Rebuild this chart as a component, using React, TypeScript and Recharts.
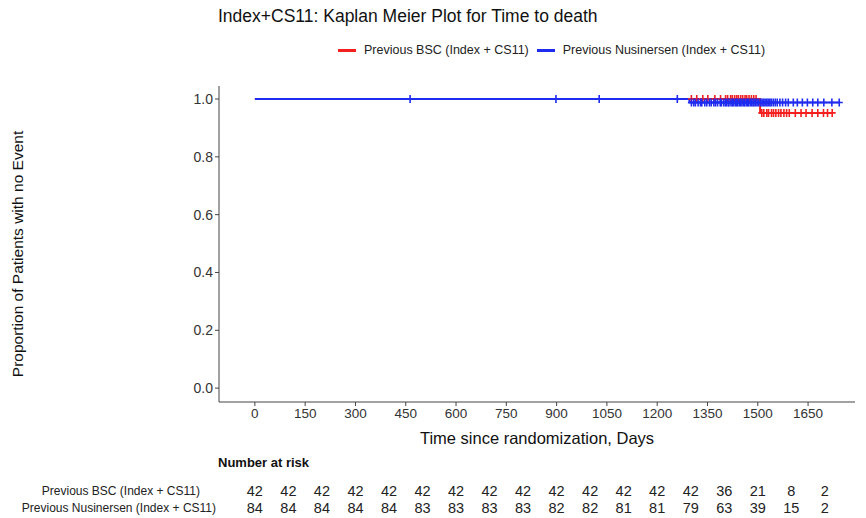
import React from "react"
import {
  ComposedChart,
  ScatterChart,
  Line,
  Scatter,
  XAxis,
  YAxis,
  Label,
} from "recharts"

// step curves (time in days, survival proportion)
const bscCurve = [
  { t: 0, s: 1 },
  { t: 1507, s: 0.952 },
  { t: 1722, s: 0.952 },
]
const nusCurve = [
  { t: 0, s: 1 },
  { t: 1296, s: 0.988 },
  { t: 1743, s: 0.988 },
]

// censoring times
const bscCensorTop = [1302, 1318, 1336, 1351, 1372, 1389, 1404, 1410, 1419, 1424, 1431, 1437, 1442, 1449, 1455, 1462, 1467, 1474, 1481, 1488, 1495]
const bscCensorLow = [1512, 1518, 1527, 1532, 1541, 1547, 1554, 1562, 1569, 1578, 1586, 1594, 1612, 1629, 1644, 1662, 1679, 1696, 1708, 1722]
const nusCensorTop = [463, 898, 1027, 1260]
const nusCensorLow = [
  1302, 1309, 1314, 1322, 1329, 1333, 1342, 1348, 1356, 1361, 1369, 1374, 1380, 1388, 1391, 1398,
  1403, 1407, 1412, 1414, 1420, 1424, 1428, 1433, 1437, 1440, 1445, 1449, 1453, 1458, 1461, 1466,
  1470, 1473, 1478, 1482, 1486, 1489, 1494, 1498,
  1503, 1509, 1513, 1518, 1522, 1527, 1531, 1536, 1540, 1546, 1552, 1558, 1566, 1574, 1583, 1591,
  1606, 1618, 1633, 1648, 1664, 1679, 1697, 1721, 1743,
]

const xTicks = [0, 150, 300, 450, 600, 750, 900, 1050, 1200, 1350, 1500, 1650]
const yTicks = [0, 0.2, 0.4, 0.6, 0.8, 1.0]

// number at risk table
const riskTimes = [0, 100, 200, 300, 400, 500, 600, 700, 800, 900, 1000, 1100, 1200, 1300, 1400, 1500, 1600, 1700]
const bscRisk = [42, 42, 42, 42, 42, 42, 42, 42, 42, 42, 42, 42, 42, 42, 36, 21, 8, 2]
const nusRisk = [84, 84, 84, 84, 84, 83, 83, 83, 83, 82, 82, 81, 81, 79, 63, 39, 15, 2]

const BSC_LABEL = "Previous BSC (Index + CS11)"
const NUS_LABEL = "Previous Nusinersen (Index + CS11)"

const RED = "#f2201f"
const BLUE = "#1f2cf0"
const FONT = '"Liberation Sans", Arial, sans-serif'
const X_DOMAIN = [-107, 1790]

const Cross = (color: string) => (props: any) => {
  const { cx, cy } = props
  return (
    <path
      d={`M${cx - 3.5},${cy}H${cx + 3.5}M${cx},${cy - 4}V${cy + 4}`}
      stroke={color}
      strokeWidth={1.6}
      fill="none"
    />
  )
}

const RiskNumber = (props: any) => {
  const { cx, cy, payload } = props
  return (
    <text x={cx} y={cy} textAnchor="middle" dominantBaseline="central" fontSize={14.5} fill="#222" fontFamily={FONT}>
      {payload.n}
    </text>
  )
}

const RowTick = (props: any) => {
  const { y, payload } = props
  const isBsc = payload.value > 1
  return (
    <text x={isBsc ? 200 : 216} y={y} textAnchor="end" dominantBaseline="central" fontSize={12} fill="#222" fontFamily={FONT}>
      {isBsc ? BSC_LABEL : NUS_LABEL}
    </text>
  )
}

export default function App() {
  const mk = (arr: number[], s: number) => arr.map((t) => ({ t, s }))
  const riskData = [
    ...riskTimes.map((t, i) => ({ t, r: 1.5, n: bscRisk[i] })),
    ...riskTimes.map((t, i) => ({ t, r: 0.5, n: nusRisk[i] })),
  ]
  const xTick = { fontSize: 13.5, fill: "#333", fontFamily: FONT }
  const yTick = { fontSize: 14, fill: "#333", fontFamily: FONT }

  return (
    <div style={{ position: "absolute", left: 0, top: 0, width: 866, height: 518, background: "#fff", fontFamily: FONT }}>
      <div style={{ position: "absolute", left: 218, top: 6, fontSize: 17.5, color: "#111", whiteSpace: "nowrap" }}>
        Index+CS11: Kaplan Meier Plot for Time to death
      </div>

      <div style={{ position: "absolute", left: 338, top: 43, display: "flex", alignItems: "center", fontSize: 12.5, color: "#222", whiteSpace: "nowrap" }}>
        <span style={{ display: "inline-block", width: 18, height: 3, background: RED, marginRight: 8 }} />
        <span>{BSC_LABEL}</span>
        <span style={{ display: "inline-block", width: 18, height: 3, background: BLUE, marginLeft: 8, marginRight: 8 }} />
        <span>{NUS_LABEL}</span>
      </div>

      <div
        style={{
          position: "absolute",
          left: 18,
          top: 254,
          transform: "translate(-50%, -50%) rotate(-90deg)",
          fontSize: 15.5,
          color: "#111",
          whiteSpace: "nowrap",
        }}
      >
        Proportion of Patients with no Event
      </div>

      <div style={{ position: "absolute", left: 0, top: 0 }}>
        <ComposedChart width={866} height={450} margin={{ top: 86, right: 11, bottom: 0, left: 0 }}>
          <XAxis
            type="number"
            dataKey="t"
            domain={X_DOMAIN}
            ticks={xTicks}
            interval={0}
            allowDataOverflow
            height={48}
            tickSize={4}
            stroke="#444"
            tick={xTick}
          >
            <Label value="Time since randomization, Days" position="insideBottom" offset={6} style={{ fontSize: 16.5, fill: "#111", fontFamily: FONT }} />
          </XAxis>
          <YAxis
            type="number"
            domain={[-0.048, 1.045]}
            ticks={yTicks}
            interval={0}
            allowDataOverflow
            width={219}
            tickSize={4}
            stroke="#444"
            tick={yTick}
            tickFormatter={(v: number) => v.toFixed(1)}
          />
          <Line data={bscCurve} dataKey="s" type="stepAfter" stroke={RED} strokeWidth={2} dot={false} isAnimationActive={false} />
          <Scatter data={mk(bscCensorTop, 1)} dataKey="s" shape={Cross(RED)} isAnimationActive={false} />
          <Scatter data={mk(bscCensorLow, 0.952)} dataKey="s" shape={Cross(RED)} isAnimationActive={false} />
          <Line data={nusCurve} dataKey="s" type="stepAfter" stroke={BLUE} strokeWidth={2} dot={false} isAnimationActive={false} />
          <Scatter data={mk(nusCensorTop, 1)} dataKey="s" shape={Cross(BLUE)} isAnimationActive={false} />
          <Scatter data={mk(nusCensorLow, 0.988)} dataKey="s" shape={Cross(BLUE)} isAnimationActive={false} />
        </ComposedChart>
      </div>

      <div style={{ position: "absolute", left: 218, top: 455, fontSize: 13, fontWeight: "bold", color: "#111" }}>
        Number at risk
      </div>

      <div style={{ position: "absolute", left: 0, top: 478 }}>
        <ScatterChart width={866} height={44} margin={{ top: 4.5, right: 11, bottom: 5.5, left: 0 }}>
          <XAxis type="number" dataKey="t" domain={X_DOMAIN} hide />
          <YAxis
            type="number"
            dataKey="r"
            domain={[0, 2]}
            ticks={[0.5, 1.5]}
            interval={0}
            width={219}
            axisLine={false}
            tickLine={false}
            tick={<RowTick />}
          />
          <Scatter data={riskData} shape={RiskNumber} isAnimationActive={false} />
        </ScatterChart>
      </div>
    </div>
  )
}
